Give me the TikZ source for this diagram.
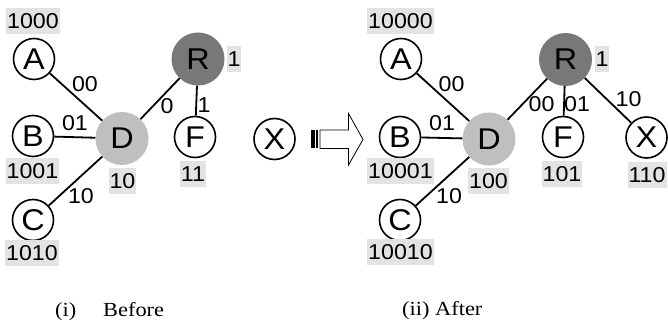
\documentclass[tikz,border=0pt]{standalone}
\usepackage{fontspec}
\setmainfont[FakeStretch=1.12]{Liberation Serif}
\setsansfont[FakeStretch=1.08]{Liberation Sans}
\usetikzlibrary{positioning}

\begin{document}
\begin{tikzpicture}[x=1pt,y=-1pt,
  leaf/.style={circle,draw,line width=1.6pt,minimum size=41pt,inner sep=0pt,font=\sffamily\fontsize{30}{30}\selectfont},
  hub/.style={circle,minimum size=53pt,inner sep=0pt,font=\sffamily\fontsize{30}{30}\selectfont},
  code/.style={fill=black!11,inner xsep=1pt,inner ysep=5pt,text height=15.4pt,text depth=0pt,font=\sffamily\fontsize{21.5}{21.5}\selectfont},
  lbl/.style={inner sep=0pt,font=\sffamily\fontsize{21.5}{21.5}\selectfont},
  edge/.style={line width=1.8pt},
  caption/.style={anchor=base west,inner sep=0pt,font=\fontsize{20}{20}\selectfont}]
\useasboundingbox (0,0) rectangle (668,320);

\node[leaf] (A1) at (34,59) {A};
\node[leaf] (B1) at (33,136) {B};
\node[leaf] (C1) at (33,220) {C};
\node[hub,fill=black!25] (D1) at (122,138.5) {D};
\node[hub,fill=black!53] (R1) at (198,59) {R};
\node[leaf] (F1) at (195,137) {F};
\node[leaf] (X1) at (274.5,139) {X};
\draw[edge] (A1) -- (D1);
\draw[edge] (B1) -- (D1);
\draw[edge] (C1) -- (D1);
\draw[edge] (D1) -- (R1);
\draw[edge] (R1) -- (F1);
\node[code] (cA1) at (33,21) {1000};
\node[code] (cB1) at (32.5,171) {1001};
\node[code] (cC1) at (32,253) {1010};
\node[code] (cD1) at (122.5,181) {10};
\node[code] (cF1) at (193,174) {11};
\node[code] (cR1) at (234,59) {1};
\node[lbl] (eA1) at (85,84) {00};
\node[lbl] (eB1) at (75,123) {01};
\node[lbl] (eC1) at (81,196) {10};
\node[lbl] (eD1) at (167,106) {0};
\node[lbl] (eF1) at (204,105) {1};

\draw[line width=0.8pt,fill=white] (320,130) -- (348.5,130) -- (348.5,113.5) -- (363,139.5)
  -- (348.5,165) -- (348.5,148.5) -- (320,148.5) -- cycle;
\fill (310.5,130) rectangle (314.5,148.5);
\fill (316.3,130) rectangle (317.7,148.5);

\node[leaf] (A2) at (401,59) {A};
\node[leaf] (B2) at (400,137) {B};
\node[leaf] (C2) at (400,220) {C};
\node[hub,fill=black!25] (D2) at (489,139) {D};
\node[hub,fill=black!53] (R2) at (565.5,59.5) {R};
\node[leaf] (F2) at (563,137) {F};
\node[leaf] (X2) at (646.5,137.5) {X};
\draw[edge] (A2) -- (D2);
\draw[edge] (B2) -- (D2);
\draw[edge] (C2) -- (D2);
\draw[edge] (D2) -- (R2);
\draw[edge] (R2) -- (F2);
\draw[edge] (R2) -- (X2);
\node[code] (cA2) at (400.5,21) {10000};
\node[code] (cB2) at (400.5,171) {10001};
\node[code] (cC2) at (400.5,252) {10010};
\node[code] (cD2) at (488.5,181) {100};
\node[code] (cF2) at (562,174) {101};
\node[code] (cX2) at (647,175) {110};
\node[code] (cR2) at (602,59) {1};
\node[lbl] (eA2) at (451.5,84) {00};
\node[lbl] (eB2) at (442,123) {01};
\node[lbl] (eC2) at (449,196) {10};
\node[lbl] (eD2) at (541.5,104.5) {00};
\node[lbl] (eF2) at (577,104.5) {01};
\node[lbl] (eX2) at (628.5,99) {10};

\node[caption] (i) at (55,316) {(i)};
\node[caption] (before) at (103,316) {Before};
\node[caption] (after) at (402,315) {(ii) After};
\end{tikzpicture}
\end{document}
